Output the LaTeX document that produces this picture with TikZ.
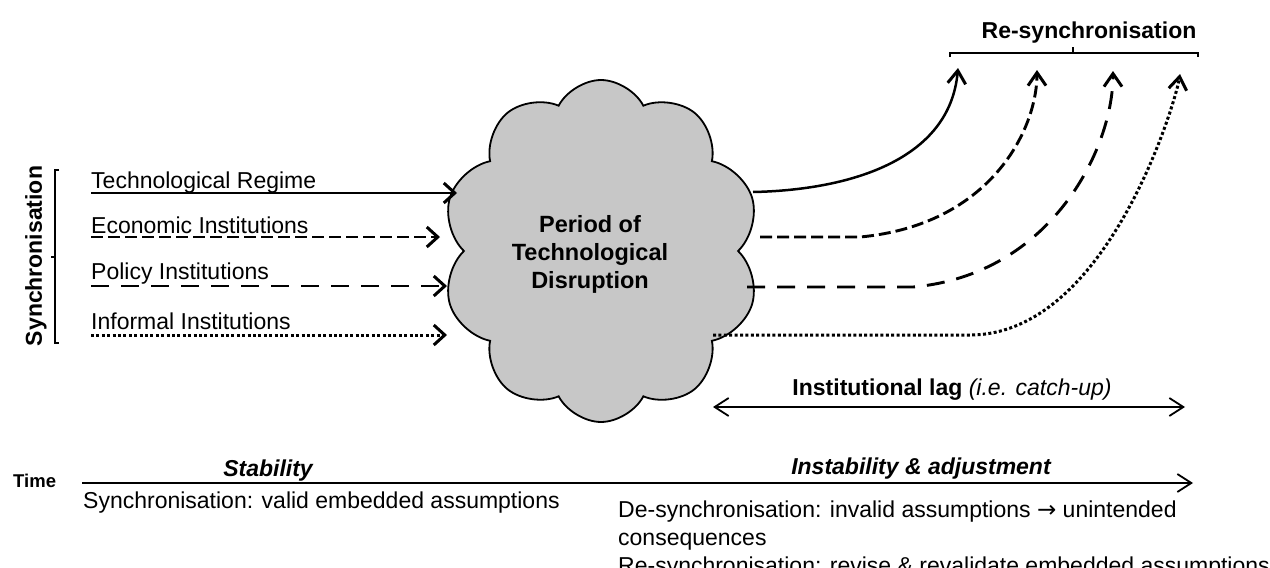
\documentclass[tikz,border=0pt]{standalone}
\usepackage{fontspec}
\setmainfont{Liberation Sans}
\newfontfamily\arrowfont{DejaVu Sans}
\usetikzlibrary{arrows.meta,shapes.symbols}
\begin{document}
\begin{tikzpicture}[x=1pt,y=-1pt,
  txt/.style={inner sep=0pt, font=\fontsize{23}{28}\selectfont},
  lab/.style={txt, anchor=base west},
  inarrow/.style={line width=2.5pt, -{Straight Barb[length=11pt,width=20pt,line width=3pt]}},
  outarrow/.style={line width=2.5pt, -{Straight Barb[length=13pt,width=18pt,line width=3pt]}},
  econdash/.style={line width=2.9pt, dash pattern=on 12pt off 5pt},
  poldash/.style={line width=2.9pt, dash pattern=on 18pt off 12pt},
  infdot/.style={line width=3pt, dash pattern=on 3pt off 2.4pt},
  thinarrow/.style={line width=1.6pt},
  barb/.tip={Straight Barb[length=14pt,width=18pt,line width=1.8pt]}
]
\useasboundingbox (0,0) rectangle (1270,568);

% cloud
\node[cloud, cloud puffs=10, cloud puff arc=125, cloud ignores aspect, draw, line width=1.8pt,
      fill=black!22, minimum width=318pt, minimum height=342pt, inner sep=0pt] (cloud) at (601,251) {};
\node[txt, font=\fontsize{23.5}{28}\selectfont\bfseries, align=center] (cloudtext) at (590,254)
  {Period of\\Technological\\Disruption};

% synchronisation bracket
\node[txt, font=\fontsize{23}{28}\selectfont\bfseries, rotate=90] (synclab) at (36,256) {Synchronisation};
\draw[line width=1.3pt] (59,170) -- (55,170) -- (55,343) -- (59,343);
\draw[line width=1.3pt] (55,257) -- (51,257);

% input labels
\node[lab] (tech) at (91,188) {Technological Regime};
\node[lab] (econ) at (91,233) {Economic Institutions};
\node[lab] (pol)  at (91,279) {Policy Institutions};
\node[lab] (inf)  at (91,329) {Informal Institutions};

\coordinate (tech0) at (91,193);  \coordinate (tech1) at (457,193);
\coordinate (econ0) at (91,237);  \coordinate (econ1) at (440,237);
\coordinate (pol0)  at (91,286);  \coordinate (pol1)  at (447,286);
\coordinate (inf0)  at (91,335);  \coordinate (inf1)  at (447,335);

\draw[inarrow] (tech0) -- (tech1);
\draw[inarrow, econdash] (econ0) -- (econ1);
\draw[inarrow, poldash] (pol0) -- (pol1);
\draw[inarrow, infdot] (inf0) -- (inf1);

% outputs
\coordinate (o1s) at (753,192); \coordinate (o1e) at (958,68);
\coordinate (o2s) at (760,237); \coordinate (o2m) at (860,237); \coordinate (o2e) at (1037,70);
\coordinate (o3s) at (747,287); \coordinate (o3m) at (913,287); \coordinate (o3e) at (1113,71);
\coordinate (o4s) at (713,335); \coordinate (o4m) at (970,335); \coordinate (o4e) at (1180,74);

\draw[outarrow] (o1s) .. controls (850,190) and (950,160) .. (o1e);
\draw[outarrow, econdash] (o2s) -- (o2m) .. controls (990,225) and (1037,130) .. (o2e);
\draw[outarrow, poldash] (o3s) -- (o3m) .. controls (1050,275) and (1113,150) .. (o3e);
\draw[outarrow, infdot] (o4s) -- (o4m) .. controls (1107,335) and (1176,101) .. (o4e);

% re-synchronisation brace
\node[txt, font=\fontsize{23}{28}\selectfont\bfseries, anchor=base] (resync) at (1089,38) {Re-synchronisation};
\draw[line width=1.3pt] (950,57) -- (950,53) -- (1198,53) -- (1198,57);
\draw[line width=1.3pt] (1073,53) -- (1073,47);

% institutional lag
\node[txt, anchor=base] (lag) at (952,395) {\textbf{Institutional lag} \textit{(i.e. catch-up)}};
\coordinate (lag0) at (713,407); \coordinate (lag1) at (1185,407);
\draw[thinarrow, barb-barb] (lag0) -- (lag1);

% time axis
\node[txt, font=\fontsize{18.5}{22}\selectfont\bfseries, anchor=base west] (time) at (13,487) {Time};
\coordinate (ax0) at (82,483); \coordinate (ax1) at (1193,483);
\draw[thinarrow, -barb] (ax0) -- (ax1);
\node[txt, font=\fontsize{23}{28}\selectfont\bfseries\itshape, anchor=base] (stab) at (268,476) {Stability};
\node[txt, font=\fontsize{23}{28}\selectfont\bfseries\itshape, anchor=base] (instab) at (921,474) {Instability \& adjustment};

\node[lab] (syncdesc) at (83,508) {Synchronisation: valid embedded assumptions};
\node[lab] (desync1) at (618,517) {De-synchronisation: invalid assumptions {\arrowfont →} unintended};
\node[lab] (desync2) at (618,545) {consequences};
\node[lab] (resync2) at (618,573) {Re-synchronisation: revise \& revalidate embedded assumptions};
\end{tikzpicture}
\end{document}
